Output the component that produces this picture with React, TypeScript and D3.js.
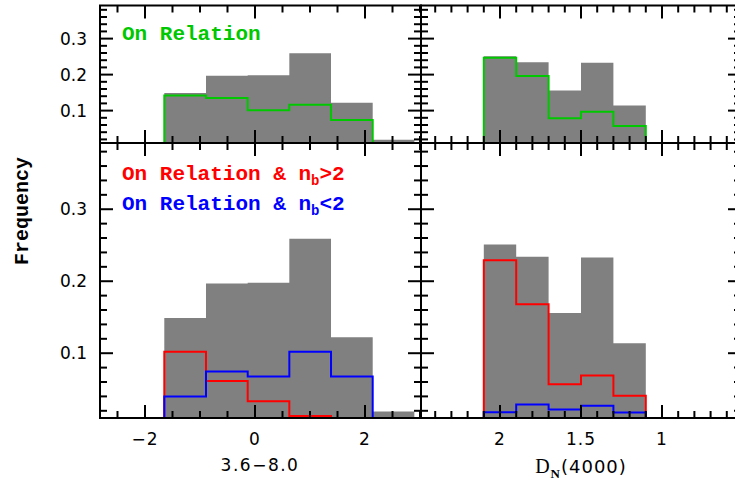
import React from 'react';
import * as d3 from 'd3';

// bin edges
const colorEdges = [-1.649, -0.891, -0.133, 0.624, 1.382, 2.14, 2.897];
const dnEdges = [2.1, 1.9, 1.7, 1.5, 1.3, 1.1];

// all galaxies (grey)
const colorAll = [0.149, 0.197, 0.198, 0.259, 0.122, 0.019];
const dnAll = [0.251, 0.234, 0.156, 0.233, 0.114];

// on relation (green)
const colorOn = [0.142, 0.135, 0.101, 0.116, 0.074, 0];
const dnOn = [0.247, 0.196, 0.079, 0.097, 0.057];

// on relation & n_b > 2 (red)
const colorHighN = [0.102, 0.0615, 0.0333, 0.0129, 0, 0];
const dnHighN = [0.229, 0.168, 0.057, 0.069, 0.041];

// on relation & n_b < 2 (blue)
const colorLowN = [0.04, 0.0745, 0.0675, 0.102, 0.0675, 0];
const dnLowN = [0.018, 0.0286, 0.0217, 0.027, 0.0175];

const yTickLabels = ['0.1', '0.2', '0.3'];
const colorTickLabels = ['\u22122', '0', '2'];
const dnTickLabels = ['2', '1.5', '1'];

const GREY = '#808080';
const GREEN = '#00c800';
const RED = '#ff0000';
const BLUE = '#0000ff';
const monoFont = '"Liberation Mono", "Courier New", monospace';
const numFont = '"DejaVu Sans", Arial, sans-serif';

const LEFT = 100, MID = 421, RIGHT = 741;
const TOP = 5.5, SPLIT = 143, BOTTOM = 418;
const MAJ = 13, MIN = 7;

function Frame({ x, y, xMajor, xMinor, yMajor, yMinor }) {
	const [xa, xb] = x.range();
	const [ya, yb] = y.range(); // ya bottom, yb top
	const segs = [];
	xMajor.forEach((v) => { segs.push([x(v), ya, x(v), ya - MAJ]); segs.push([x(v), yb, x(v), yb + MAJ]); });
	xMinor.forEach((v) => { segs.push([x(v), ya, x(v), ya - MIN]); segs.push([x(v), yb, x(v), yb + MIN]); });
	yMajor.forEach((v) => { segs.push([xa, y(v), xa + MAJ, y(v)]); segs.push([xb, y(v), xb - MAJ, y(v)]); });
	yMinor.forEach((v) => { segs.push([xa, y(v), xa + MIN, y(v)]); segs.push([xb, y(v), xb - MIN, y(v)]); });
	return (
		<g stroke="#000" strokeWidth={2}>
			{segs.map((s, i) => <line key={i} x1={s[0]} y1={s[1]} x2={s[2]} y2={s[3]} />)}
			<rect x={Math.min(xa, xb)} y={yb} width={Math.abs(xb - xa)} height={ya - yb} fill="none" />
		</g>
	);
}

function stepPoints(edges, vals) {
	const pts = [[edges[0], 0]];
	vals.forEach((v, i) => { pts.push([edges[i], v]); pts.push([edges[i + 1], v]); });
	pts.push([edges[edges.length - 1], 0]);
	return pts;
}

function Panel({ id, x, y, edges, grey, lines, xMajor, xMinor }) {
	const [ya, yb] = y.range();
	const yMajor = [0.1, 0.2, 0.3];
	const yMinor = d3.range(0.02, 0.39, 0.02).filter((v) => Math.abs(v * 10 - Math.round(v * 10)) > 1e-6);
	const [xa, xb] = x.range();
	const line = d3.line().x((d) => x(d[0])).y((d) => y(d[1]));
	return (
		<g>
			<defs>
				<clipPath id={id}>
					<rect x={xa} y={yb} width={xb - xa} height={ya - yb} />
				</clipPath>
			</defs>
			<g clipPath={`url(#${id})`}>
				<path d={line(stepPoints(edges, grey)) + 'Z'} fill={GREY} stroke="none" />
				{lines.map((l, i) => (
					<path key={i} d={line(stepPoints(edges, l.vals))} fill="none" stroke={l.color} strokeWidth={2} />
				))}
			</g>
			<Frame x={x} y={y} xMajor={xMajor} xMinor={xMinor} yMajor={yMajor} yMinor={yMinor} />
		</g>
	);
}

function App() {
	const xColor = d3.scaleLinear().domain([-2.818, 3.018]).range([LEFT, MID]);
	const xDn = d3.scaleLinear().domain([2.4877, 0.5123]).range([MID, RIGHT]);
	const yTop = d3.scaleLinear().domain([0.01, 0.392]).range([SPLIT, TOP]);
	const yBot = d3.scaleLinear().domain([0.01, 0.392]).range([BOTTOM, SPLIT]);

	const colorMajor = [-2, 0, 2];
	const colorMinor = d3.range(-2.5, 3.01, 0.5).filter((v) => !colorMajor.includes(v));
	const dnMajor = [2, 1.5, 1];
	const dnMinor = d3.range(0.6, 2.45, 0.1).map((v) => Math.round(v * 10) / 10).filter((v) => !dnMajor.includes(v));

	return (
		<svg width={735} height={481} style={{ position: 'absolute', left: 0, top: 0, background: '#fff' }}>
			<Panel id="c1" x={xColor} y={yTop} edges={colorEdges} grey={colorAll}
				lines={[{ vals: colorOn, color: GREEN }]} xMajor={colorMajor} xMinor={colorMinor} />
			<Panel id="c2" x={xDn} y={yTop} edges={dnEdges} grey={dnAll}
				lines={[{ vals: dnOn, color: GREEN }]} xMajor={dnMajor} xMinor={dnMinor} />
			<Panel id="c3" x={xColor} y={yBot} edges={colorEdges} grey={colorAll}
				lines={[{ vals: colorHighN, color: RED }, { vals: colorLowN, color: BLUE }]} xMajor={colorMajor} xMinor={colorMinor} />
			<Panel id="c4" x={xDn} y={yBot} edges={dnEdges} grey={dnAll}
				lines={[{ vals: dnHighN, color: RED }, { vals: dnLowN, color: BLUE }]} xMajor={dnMajor} xMinor={dnMinor} />

			{/* y tick labels */}
			<g fontFamily={numFont} fontSize={17} textAnchor="end" fill="#000">
				{yTickLabels.map((t, i) => (
					<text key={'t' + i} x={87} y={yTop(+t)} dy="0.36em">{t}</text>
				))}
				{yTickLabels.map((t, i) => (
					<text key={'b' + i} x={87} y={yBot(+t)} dy="0.36em">{t}</text>
				))}
			</g>

			{/* x tick labels */}
			<g fontFamily={numFont} fontSize={17} textAnchor="middle" fill="#000" letterSpacing={1}>
				{colorTickLabels.map((t, i) => (
					<text key={'c' + i} x={xColor(colorMajor[i])} y={445}>{t}</text>
				))}
				{dnTickLabels.map((t, i) => (
					<text key={'d' + i} x={xDn(dnMajor[i])} y={445}>{t}</text>
				))}
			</g>

			{/* axis titles */}
			<text x={260} y={471} textAnchor="middle" fontFamily={numFont} fontSize={17} letterSpacing={1.5}>3.6{'\u2212'}8.0</text>
			<text x={581} y={473} textAnchor="middle" fontFamily={numFont} fontSize={18} letterSpacing={1}>
				<tspan fontFamily='"Liberation Serif", serif' fontSize={20}>D</tspan>
				<tspan fontFamily='"Liberation Serif", serif' fontWeight="bold" fontSize={13} dy={5}>N</tspan>
				<tspan dy={-5}>(4000)</tspan>
			</text>
			<text transform="translate(28,211) rotate(-90)" textAnchor="middle" fontFamily={monoFont} fontWeight="bold" fontSize={20}>Frequency</text>

			{/* legends */}
			<g fontFamily={monoFont} fontWeight="bold" fontSize={21}>
				<text x={122} y={40} fill={GREEN}>On Relation</text>
				<text x={122} y={180} fill={RED}>On Relation &amp; n<tspan fontSize={14} dy={5}>b</tspan><tspan dy={-5}>&gt;2</tspan></text>
				<text x={122} y={210} fill={BLUE}>On Relation &amp; n<tspan fontSize={14} dy={5}>b</tspan><tspan dy={-5}>&lt;2</tspan></text>
			</g>
		</svg>
	);
}

export default App;
